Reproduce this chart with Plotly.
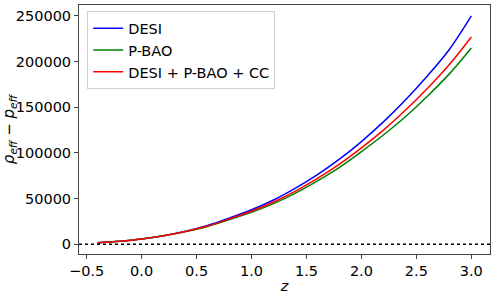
import plotly.graph_objects as go

z = [-0.4, -0.2, 0.0, 0.2, 0.4, 0.6, 0.8, 1.0, 1.2, 1.4, 1.6, 1.8, 2.0, 2.2, 2.4, 2.6, 2.8, 3.0]
desi = [1600, 3300, 5800, 9500, 14400, 20600, 28800, 37800, 48500, 61500, 76300, 93200,
        112500, 134000, 158000, 184300, 213300, 250000]
pbao = [1600, 3300, 5750, 9300, 13900, 19600, 27000, 35000, 44500, 56000, 69400, 84300,
        101500, 119700, 139700, 162100, 186600, 215000]
combo = [1600, 3300, 5800, 9400, 14100, 20000, 27800, 36200, 46300, 58300, 72100, 87800,
         105600, 125000, 146700, 170600, 196800, 227000]

series = [("DESI", desi, "#0000ff"), ("P-BAO", pbao, "#008000"),
          ("DESI + P-BAO + CC", combo, "#ff0000")]

xticks = [-0.5, 0.0, 0.5, 1.0, 1.5, 2.0, 2.5, 3.0]
yticks = [0, 50000, 100000, 150000, 200000, 250000]

font = "DejaVu Sans"
fs = 14.5
fig = go.Figure()
for name, vals, col in series:
    fig.add_trace(go.Scatter(x=z, y=vals, mode="lines", name=name,
                             line=dict(color=col, width=1.5, shape="spline")))

fig.add_shape(type="line", xref="paper", yref="y", x0=0, x1=1, y0=0, y1=0,
              line=dict(color="black", width=1.5, dash="dot"))

axis_common = dict(showline=True, linecolor="#444", linewidth=1, mirror=True,
                   ticks="outside", ticklen=4, tickcolor="#444", showgrid=False,
                   zeroline=False, automargin=False,
                   tickfont=dict(family=font, size=fs, color="black"))

fig.update_xaxes(range=[-0.57, 3.17], tickvals=xticks, tickformat=".1f",
                 title=dict(text="<i>z</i>", font=dict(family=font, size=fs, color="black"),
                            standoff=2),
                 **axis_common)
fig.update_yaxes(range=[-10600, 262000], tickvals=yticks, tickformat="d",
                 title=dict(text="<i>ρ</i><sub><i>eff</i></sub> − <i>p</i><sub><i>eff</i></sub>",
                            font=dict(family=font, size=15, color="black"), standoff=2),
                 **axis_common)

fig.update_layout(
    width=495, height=295,
    margin=dict(l=79, r=5, t=5, b=41),
    plot_bgcolor="white", paper_bgcolor="white",
    font=dict(family=font, size=fs, color="black"),
    legend=dict(x=0.02, y=0.975, xanchor="left", yanchor="top",
                bgcolor="white", bordercolor="#d0d0d0", borderwidth=1,
                font=dict(family=font, size=fs, color="black"),
                tracegroupgap=0, itemwidth=30),
    showlegend=True,
)

fig.write_html("out.html", config={"displayModeBar": False},
               post_script="document.body.style.margin='0';")
